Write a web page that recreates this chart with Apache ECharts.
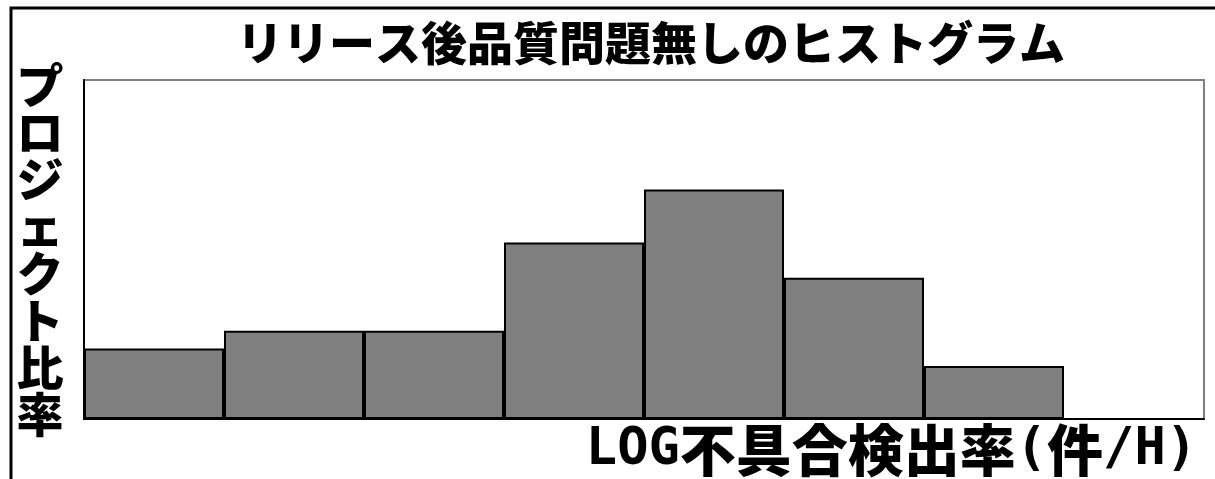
<!DOCTYPE html>
<html>
<head>
<meta charset="utf-8">
<style>
  html, body { margin: 0; padding: 0; background: #ffffff; }
  #chart { width: 1215px; height: 479px; }
</style>
<script src="https://cdn.jsdelivr.net/npm/echarts@6/dist/echarts.min.js"></script>
</head>
<body>
<div id="chart"></div>
<script>
// Histogram bins of the LOG defect detection rate (defects per hour)
const bins = ['1', '2', '3', '4', '5', '6', '7', '8'];
// Number of projects in each bin (48 projects in total)
const projectCounts = [4, 5, 5, 10, 13, 8, 3, 0];
// Upper limit of the value axis: 40% of the 48 projects
const valueMax = 19.2;

const chartTitle = 'リリース後品質問題無しのヒストグラム';
const yName = 'プロジェクト比率';
const xNameParts = [['a', 'LOG'], ['b', '不具合検出率'], ['a', '('], ['b', '件'], ['a', '/H)']];

const cjkFont = '"Noto Sans CJK JP", "Noto Sans CJK SC", sans-serif';
const monoFont = '"DejaVu Sans Mono", "Noto Sans CJK JP", monospace';

const chart = echarts.init(document.getElementById('chart'), null, { renderer: 'canvas' });

chart.setOption({
  backgroundColor: '#ffffff',
  animation: false,
  title: {
    text: chartTitle,
    left: 232,
    top: 15,
    textStyle: {
      fontFamily: cjkFont,
      fontWeight: 900,
      fontSize: 46,
      color: '#000000'
    }
  },
  grid: {
    left: 84,
    right: 11,
    top: 80,
    bottom: 60,
    show: true,
    borderColor: '#808080',
    borderWidth: 2,
    backgroundColor: '#ffffff'
  },
  xAxis: {
    type: 'category',
    data: bins,
    boundaryGap: true,
    axisLine: { show: true, lineStyle: { color: '#000000', width: 2 } },
    axisTick: { show: false },
    axisLabel: { show: false },
    splitLine: { show: false },
    name: xNameParts.map(p => '{' + p[0] + '|' + p[1] + '}').join(''),
    nameLocation: 'end',
    nameGap: -7,
    nameTextStyle: {
      align: 'right',
      verticalAlign: 'top',
      padding: [3, 0, 0, 0],
      rich: {
        a: { fontFamily: monoFont, fontWeight: 'bold', fontSize: 52, color: '#000000' },
        b: { fontFamily: cjkFont, fontWeight: 900, fontSize: 56, color: '#000000' }
      }
    }
  },
  yAxis: {
    type: 'value',
    min: 0,
    max: valueMax,
    axisLine: { show: true, lineStyle: { color: '#000000', width: 2 } },
    axisTick: { show: false },
    axisLabel: { show: false },
    splitLine: { show: false },
    name: yName.split('').join('\n'),
    nameLocation: 'middle',
    nameRotate: 0,
    nameGap: 44,
    nameTextStyle: {
      fontFamily: cjkFont,
      fontWeight: 900,
      fontSize: 47,
      lineHeight: 47,
      color: '#000000',
      align: 'center',
      verticalAlign: 'middle'
    }
  },
  series: [{
    type: 'bar',
    data: projectCounts,
    barCategoryGap: 0,
    itemStyle: {
      color: '#808080',
      borderColor: '#000000',
      borderWidth: 2
    }
  }],
  graphic: [{
    type: 'polyline',
    shape: { points: [[11, 479], [11, 8], [1215, 8]] },
    style: { stroke: '#000000', lineWidth: 3, fill: null },
    silent: true,
    z: 100
  }]
});
</script>
</body>
</html>
